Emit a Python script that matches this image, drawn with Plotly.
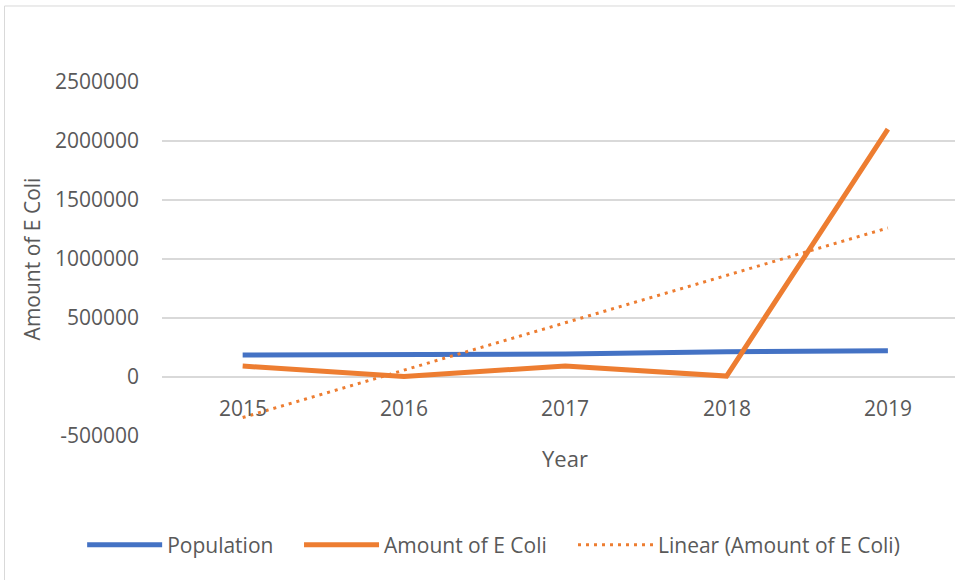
import numpy as np
import plotly.graph_objects as go

# Data
years = ["2015", "2016", "2017", "2018", "2019"]
population = [186000, 190000, 195000, 214000, 223000]
e_coli = [93000, 5000, 93000, 8000, 2100000]

y_ticks = [-500000, 0, 500000, 1000000, 1500000, 2000000, 2500000]

# Least-squares linear trend of the E. coli series
idx = np.arange(1, len(years) + 1)
slope, intercept = np.polyfit(idx, e_coli, 1)
trend = (slope * idx + intercept).tolist()

BLUE = "#4472C4"
ORANGE = "#ED7D31"
TEXT = "#595959"
GRID = "#D9D9D9"
FONT = "Open Sans"

x_pos = list(range(len(years)))

fig = go.Figure()
fig.add_trace(go.Scatter(x=x_pos, y=population, mode="lines", name="Population",
                         legend="legend",
                         line=dict(color=BLUE, width=5)))
fig.add_trace(go.Scatter(x=x_pos, y=e_coli, mode="lines", name="Amount of E Coli",
                         legend="legend2",
                         line=dict(color=ORANGE, width=5)))
fig.add_trace(go.Scatter(x=x_pos, y=trend, mode="lines", name="Linear (Amount of E Coli)",
                         legend="legend3",
                         line=dict(color=ORANGE, width=3, dash="3px,5px")))

# Category labels sit just below the zero line, where the category axis crosses
annotations = [
    dict(x=i, y=0, xref="x", yref="y", text=lab, showarrow=False,
         yshift=-31, yanchor="middle", font=dict(family=FONT, size=21, color=TEXT))
    for i, lab in enumerate(years)
]
annotations.append(dict(x=2, y=-0.062, xref="x", yref="paper", text="Year",
                        showarrow=False, yanchor="middle",
                        font=dict(family=FONT, size=22, color=TEXT)))


def legend_box(x):
    return dict(orientation="h", x=x, xanchor="left", y=-0.308, yanchor="middle",
                font=dict(family=FONT, size=21, color=TEXT), itemwidth=75,
                bgcolor="rgba(0,0,0,0)")


fig.update_layout(
    width=955, height=580,
    margin=dict(l=162, r=0, t=82, b=144),
    paper_bgcolor="white", plot_bgcolor="white",
    font=dict(family=FONT, size=21, color=TEXT),
    showlegend=True,
    legend=legend_box(-0.1007),
    legend2=legend_box(0.1728),
    legend3=legend_box(0.5183),
    annotations=annotations,
    shapes=[dict(type="rect", xref="paper", yref="paper",
                 x0=-0.1986, x1=1.2, y0=-0.6, y1=1.2147,
                 line=dict(color=GRID, width=1), layer="below")],
)
fig.update_xaxes(range=[-0.5, 4.416], showgrid=False, zeroline=False,
                 showticklabels=False, showline=False, fixedrange=True)
fig.update_yaxes(range=[-500000, 2500000], tickvals=y_ticks,
                 ticktext=[str(v) for v in y_ticks],
                 showgrid=True, gridcolor=GRID, gridwidth=1.5, zeroline=False,
                 showline=False, ticks="", ticklabelstandoff=22,
                 tickfont=dict(family=FONT, size=21, color=TEXT),
                 title=dict(text="Amount of E Coli", standoff=8,
                            font=dict(family=FONT, size=21, color=TEXT)))

fig.write_html("out.html")
